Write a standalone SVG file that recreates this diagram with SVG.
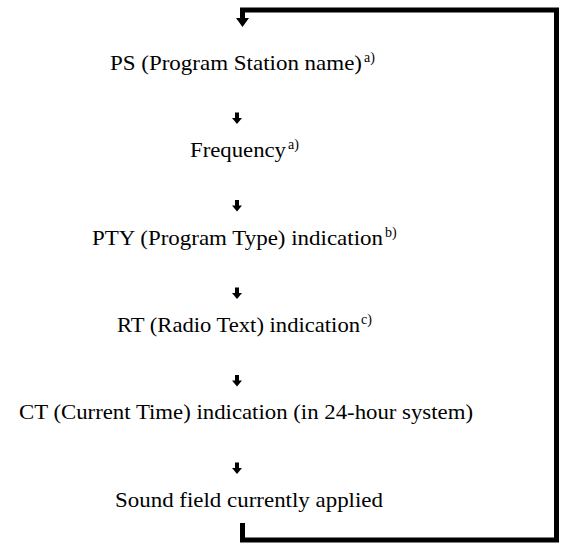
<svg xmlns="http://www.w3.org/2000/svg" width="563" height="544" viewBox="0 0 563 544">
<style>
.t{font-family:"Liberation Serif","Times New Roman",serif;font-size:22px;fill:#000}
.sup{font-family:"Liberation Serif","Times New Roman",serif;font-size:14px;fill:#000}
.loop{fill:none;stroke:#000;stroke-width:5;stroke-linejoin:miter;stroke-linecap:butt}
</style>
<defs>
<g id="sa"><rect x="-2" y="0" width="4" height="6"/><polygon points="-5,5.5 5,5.5 0,11.5"/></g>
</defs>
<rect width="563" height="544" fill="#fff"/>
<g id="connectors">
<path class="loop" d="M242.5,523 V540 H556.5 V10 H242.5 V19"/>
<polygon points="236,18 249,18 242.5,27"/>
<use href="#sa" x="237" y="112.5"/>
<use href="#sa" x="237" y="200"/>
<use href="#sa" x="237" y="287.5"/>
<use href="#sa" x="237" y="375"/>
<use href="#sa" x="237" y="462.5"/>
</g>
<g id="n1"><text class="t" x="110" y="70" textLength="252" lengthAdjust="spacingAndGlyphs">PS (Program Station name)</text><text class="sup" x="364" y="62">a)</text></g>
<g id="n2"><text class="t" x="190" y="157" textLength="96" lengthAdjust="spacingAndGlyphs">Frequency</text><text class="sup" x="288" y="149">a)</text></g>
<g id="n3"><text class="t" x="92" y="244.5" textLength="291" lengthAdjust="spacingAndGlyphs">PTY (Program Type) indication</text><text class="sup" x="385" y="236.5">b)</text></g>
<g id="n4"><text class="t" x="117" y="332" textLength="243" lengthAdjust="spacingAndGlyphs">RT (Radio Text) indication</text><text class="sup" x="361" y="324">c)</text></g>
<g id="n5"><text class="t" x="19" y="419" textLength="454" lengthAdjust="spacingAndGlyphs">CT (Current Time) indication (in 24-hour system)</text></g>
<g id="n6"><text class="t" x="115" y="507" textLength="268" lengthAdjust="spacingAndGlyphs">Sound field currently applied</text></g>
</svg>
